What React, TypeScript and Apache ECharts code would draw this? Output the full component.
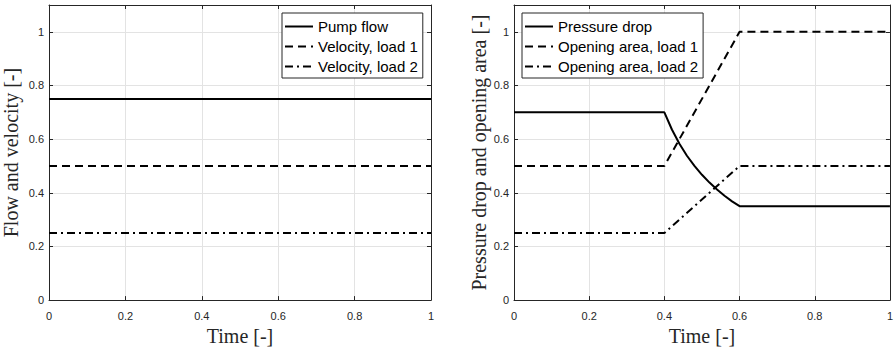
import React, { useEffect, useRef } from "react";
import * as echarts from "echarts";

// ---- data ----
const leftTime = [0, 1];
const pumpFlow = [0.75, 0.75];
const velocityLoad1 = [0.5, 0.5];
const velocityLoad2 = [0.25, 0.25];

const pressureTime = [0, 0.4, 0.42, 0.44, 0.46, 0.48, 0.5, 0.52, 0.54, 0.56, 0.58, 0.6, 1];
const pressureDrop = [0.7, 0.7, 0.636, 0.583, 0.538, 0.5, 0.467, 0.438, 0.412, 0.389, 0.368, 0.35, 0.35];
const areaTime = [0, 0.4, 0.6, 1];
const openingLoad1 = [0.5, 0.5, 1, 1];
const openingLoad2 = [0.25, 0.25, 0.5, 0.5];

const leftNames = ["Pump flow", "Velocity, load 1", "Velocity, load 2"];
const rightNames = ["Pressure drop", "Opening area, load 1", "Opening area, load 2"];
const xTitle = "Time [-]";
const leftYTitle = "Flow and velocity [-]";
const rightYTitle = "Pressure drop and opening area [-]";

const zip = (xs: number[], ys: number[]) => xs.map((x, i) => [x, ys[i]]);

const AX = "#262626";
const GRID = "#e3e3e3";
const SANS = "'Liberation Sans', Arial, sans-serif";
const SERIF = "'Liberation Serif', 'Times New Roman', serif";

const SOLID = "solid";
const DASH = [8, 5];
const DASHDOT = [8, 4, 2, 4];

function xAxes(gridIndex: number) {
  const common = {
    type: "value",
    gridIndex,
    min: 0,
    max: 1,
    interval: 0.2,
    axisLine: { show: true, onZero: false, lineStyle: { color: AX, width: 1 } },
    axisTick: { show: true, inside: true, length: 4, lineStyle: { color: AX } },
  };
  return [
    {
      ...common,
      position: "bottom",
      name: xTitle,
      nameLocation: "middle",
      nameGap: 21,
      nameTextStyle: { fontFamily: SERIF, fontSize: 20, color: AX },
      axisLabel: { show: true, margin: 10, fontFamily: SANS, fontSize: 11, color: AX },
      splitLine: { show: true, lineStyle: { color: GRID, width: 1 } },
    },
    {
      ...common,
      position: "top",
      axisLabel: { show: false },
      splitLine: { show: false },
    },
  ];
}

function yAxes(gridIndex: number, title: string, gap: number) {
  const common = {
    type: "value",
    gridIndex,
    min: 0,
    max: 1.1,
    interval: 0.2,
    axisLine: { show: true, onZero: false, lineStyle: { color: AX, width: 1 } },
    axisTick: { show: true, inside: true, length: 4, lineStyle: { color: AX } },
  };
  return [
    {
      ...common,
      position: "left",
      name: title,
      nameLocation: "middle",
      nameGap: gap,
      nameTextStyle: { fontFamily: SERIF, fontSize: 20, color: AX },
      axisLabel: { show: true, margin: 5, fontFamily: SANS, fontSize: 11, color: AX, showMaxLabel: false },
      splitLine: { show: true, lineStyle: { color: GRID, width: 1 } },
    },
    {
      ...common,
      position: "right",
      axisLabel: { show: false },
      splitLine: { show: false },
    },
  ];
}

function line(name: string, data: number[][], type: any, xi: number, yi: number) {
  return {
    type: "line",
    name,
    data,
    xAxisIndex: xi,
    yAxisIndex: yi,
    symbol: "none",
    showSymbol: false,
    color: "#000",
    itemStyle: { color: "#000" },
    lineStyle: { color: "#000", width: 2, type },
  };
}

function legend(left: number, data: string[]) {
  return {
    orient: "vertical",
    left,
    top: 13,
    itemWidth: 28,
    itemHeight: 14,
    itemGap: 5,
    padding: [6, 5, 4, 2],
    borderColor: AX,
    borderWidth: 1,
    borderRadius: 0,
    backgroundColor: "#fff",
    itemStyle: { opacity: 0, color: "transparent", borderWidth: 0 },
    textStyle: { fontFamily: SANS, fontSize: 15, color: "#000" },
    selectedMode: false,
    data,
  };
}

export default function App() {
  const ref = useRef<HTMLDivElement>(null);
  useEffect(() => {
    document.body.style.margin = "0";
    const chart = echarts.init(ref.current!, undefined, { renderer: "svg" });
    chart.setOption({
      animation: false,
      backgroundColor: "#fff",
      grid: [
        { left: 49, top: 5, width: 382, height: 302 },
        { left: 514, top: 5, width: 382, height: 302 },
      ],
      xAxis: [...xAxes(0), ...xAxes(1)],
      yAxis: [...yAxes(0, leftYTitle, 28), ...yAxes(1, rightYTitle, 25)],
      legend: [legend(282, leftNames), legend(522, rightNames)],
      series: [
        line(leftNames[0], zip(leftTime, pumpFlow), SOLID, 0, 0),
        line(leftNames[1], zip(leftTime, velocityLoad1), DASH, 0, 0),
        line(leftNames[2], zip(leftTime, velocityLoad2), DASHDOT, 0, 0),
        line(rightNames[0], zip(pressureTime, pressureDrop), SOLID, 2, 2),
        line(rightNames[1], zip(areaTime, openingLoad1), DASH, 2, 2),
        line(rightNames[2], zip(areaTime, openingLoad2), DASHDOT, 2, 2),
      ],
    });
    return () => chart.dispose();
  }, []);
  return <div ref={ref} style={{ width: 896, height: 351 }} />;
}
